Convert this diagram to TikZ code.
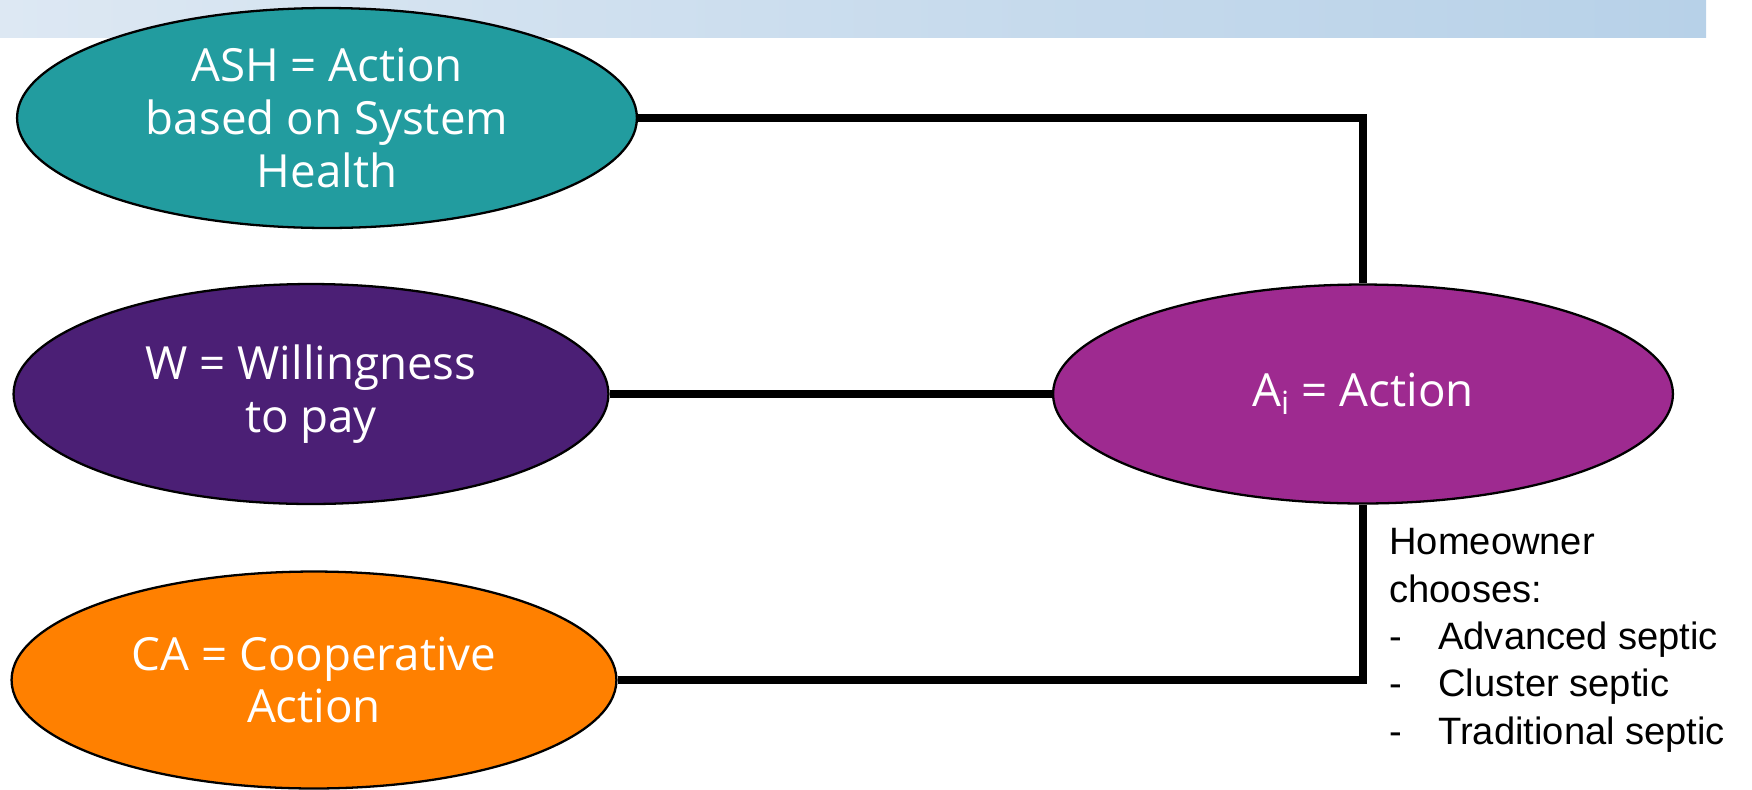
\documentclass[tikz,border=0pt]{standalone}
\usepackage{fontspec}
\setmainfont{Open Sans}
\newfontfamily\listfont{Liberation Sans}
\usetikzlibrary{positioning, shapes.geometric, calc}
\definecolor{bandLeft}{RGB}{221,232,243}
\definecolor{bandRight}{RGB}{183,209,232}
\definecolor{factHealth}{RGB}{34,156,159}
\definecolor{factPay}{RGB}{75,31,117}
\definecolor{factCoop}{RGB}{255,128,0}
\definecolor{factAction}{RGB}{158,42,144}
\tikzset{
  % filled ellipse with white text; colour given with fill=
  factor/.style={
    ellipse, draw=black, line width=1.3pt, inner sep=0pt,
    minimum width=12.4cm, minimum height=4.4cm,
    align=center, text=white,
    font=\fontsize{26}{30}\selectfont
  },
  % thick black connectors
  link/.style={draw=black, line width=4pt},
  note/.style={font=\listfont\fontsize{21.7}{27}\selectfont, align=left, text=black,
               inner sep=0pt, anchor=north west},
}

\begin{document}
\begin{tikzpicture}[x=0.02cm, y=-0.02cm]
\useasboundingbox (0,0) rectangle (1752,789);

% ===========================================================================
% HEADER BAND
% ===========================================================================
\shade[left color=bandLeft, right color=bandRight] (0,0) rectangle (1706,37);

% ===========================================================================
% LEFT COLUMN: the three factors
% ===========================================================================
\node[factor, fill=factHealth] (ash) at (327,118)
      {ASH = Action\\based on System\\Health};
\node[factor, fill=factPay, minimum width=11.9cm] (wtp) at (311,394)
      {W = Willingness\\to pay};
\node[factor, fill=factCoop, minimum width=12.1cm, minimum height=4.34cm] (ca) at (314,680)
      {CA = Cooperative\\Action};

% ===========================================================================
% RIGHT: the action node and the homeowner note
% ===========================================================================
\node[factor, fill=factAction, minimum height=4.38cm] (act) at (1363,394)
      {A\textsubscript{i} = Action};

\node[note] (choice) at (1389,528)
      {Homeowner\\
       chooses:\\
       \makebox[0.98cm][l]{-}Advanced septic\\
       \makebox[0.98cm][l]{-}Cluster septic\\
       \makebox[0.98cm][l]{-}Traditional septic};

% ===========================================================================
% CONNECTORS
% ===========================================================================
\draw[link] (ash.east) -| (act.north);
\draw[link] (wtp.east) -- (act.west);
\draw[link] (ca.east) -| (act.south);

\end{tikzpicture}
\end{document}
